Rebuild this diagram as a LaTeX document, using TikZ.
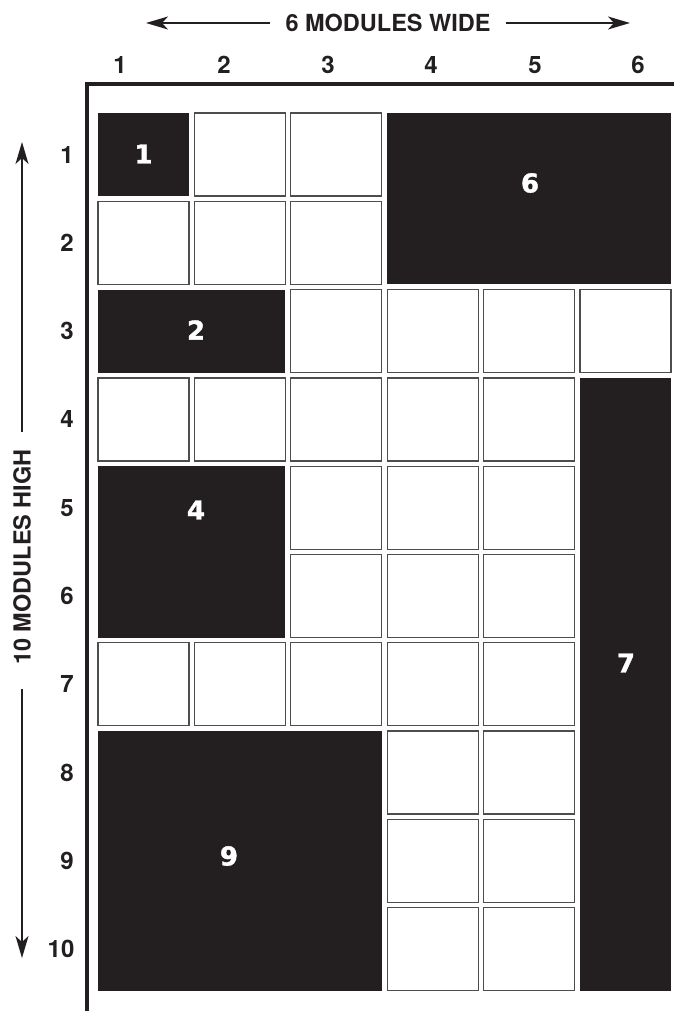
\documentclass[tikz,border=0pt]{standalone}
\usepackage{fontspec}
\setmainfont{TeX Gyre Heros}
\newfontfamily\blackfont[FakeBold=1.5]{DejaVu Sans}
\usetikzlibrary{arrows.meta,calc}
\definecolor{ink}{HTML}{231F20}
\tikzset{
  cellbox/.style={draw=ink!80, line width=1.3pt, fill=white, minimum width=91pt, minimum height=83pt, inner sep=0pt, anchor=center},
  blockbox/.style={fill=ink, draw=none, inner sep=0pt, anchor=center},
  blocklabel/.style={text=white, font=\blackfont\bfseries\fontsize{26}{26}\selectfont, inner sep=0pt},
  axisnum/.style={text=ink, font=\bfseries\fontsize{24}{24}\selectfont, inner sep=0pt},
  axistitle/.style={text=ink, font=\bfseries\fontsize{23.5}{23.5}\selectfont, inner sep=0pt},
  dimline/.style={draw=ink, line width=1.3pt},
  dimarrow/.style={dimline, -{Stealth[length=22pt, width=13pt, inset=6pt]}},
  frameline/.style={draw=ink, line width=3.2pt}
}
\begin{document}
\begin{tikzpicture}[x=1pt, y=-1pt]
\useasboundingbox (0,0) rectangle (674,1011);
% frame
\coordinate (ftop) at (674,84);
\coordinate (fcorner) at (87,84);
\coordinate (fbot) at (87,1011);
\draw[frameline] (ftop) -- (fcorner) -- (fbot);
% white cells
\foreach \c/\r in {2/1,3/1, 1/2,2/2,3/2, 3/3,4/3,5/3,6/3, 1/4,2/4,3/4,4/4,5/4, 3/5,4/5,5/5, 3/6,4/6,5/6, 1/7,2/7,3/7,4/7,5/7, 4/8,5/8, 4/9,5/9, 4/10,5/10}{
  \node[cellbox] (w-\r-\c) at ({98+(\c-1)*96.4+45.5},{113+(\r-1)*88.3+41.5}) {};
}
% black blocks
\node[blockbox, minimum width=91pt, minimum height=83pt] (b1) at (143.5,154.5) {};
\node[blockbox, minimum width=283.8pt, minimum height=171.3pt] (b6) at (529.1,198.65) {};
\node[blockbox, minimum width=187.4pt, minimum height=83pt] (b2) at (191.7,331.1) {};
\node[blockbox, minimum width=187.4pt, minimum height=171.3pt] (b4) at (191.7,551.85) {};
\node[blockbox, minimum width=91pt, minimum height=612.8pt] (b7) at (625.5,684.3) {};
\node[blockbox, minimum width=283.8pt, minimum height=259.6pt] (b9) at (239.9,860.9) {};
% block labels
\node[blocklabel] (l1) at (143.5,154) {1};
\node[blocklabel] (l6) at (530,183) {6};
\node[blocklabel] (l2) at (196,330) {2};
\node[blocklabel] (l4) at (196,510) {4};
\node[blocklabel] (l7) at (626,663) {7};
\node[blocklabel] (l9) at (229,856) {9};
% column numbers
\foreach \i/\x in {1/120,2/224,3/328,4/431,5/535,6/638}{
  \node[axisnum] (col\i) at (\x,65) {\i};
}
% row numbers
\foreach \i in {1,...,10}{
  \node[axisnum] (row\i) at ({\i==10 ? 61 : 67},{154.5+(\i-1)*88.3}) {\i};
}
% top title with arrows
\node[axistitle] (wide) at (388,23) {6 MODULES WIDE};
\coordinate (wl) at (146,23);
\coordinate (wr) at (630,23);
\draw[dimarrow] ($(wide.west)+(-15,0)$) -- (wl);
\draw[dimarrow] ($(wide.east)+(15,0)$) -- (wr);
% left title with arrows
\node[axistitle, rotate=90] (high) at (22,557) {10 MODULES HIGH};
\coordinate (ht) at (22,142);
\coordinate (hb) at (22,958);
\draw[dimarrow] ($(high.east)+(0,-17)$) -- (ht);
\draw[dimarrow] ($(high.west)+(0,24)$) -- (hb);
\end{tikzpicture}
\end{document}
